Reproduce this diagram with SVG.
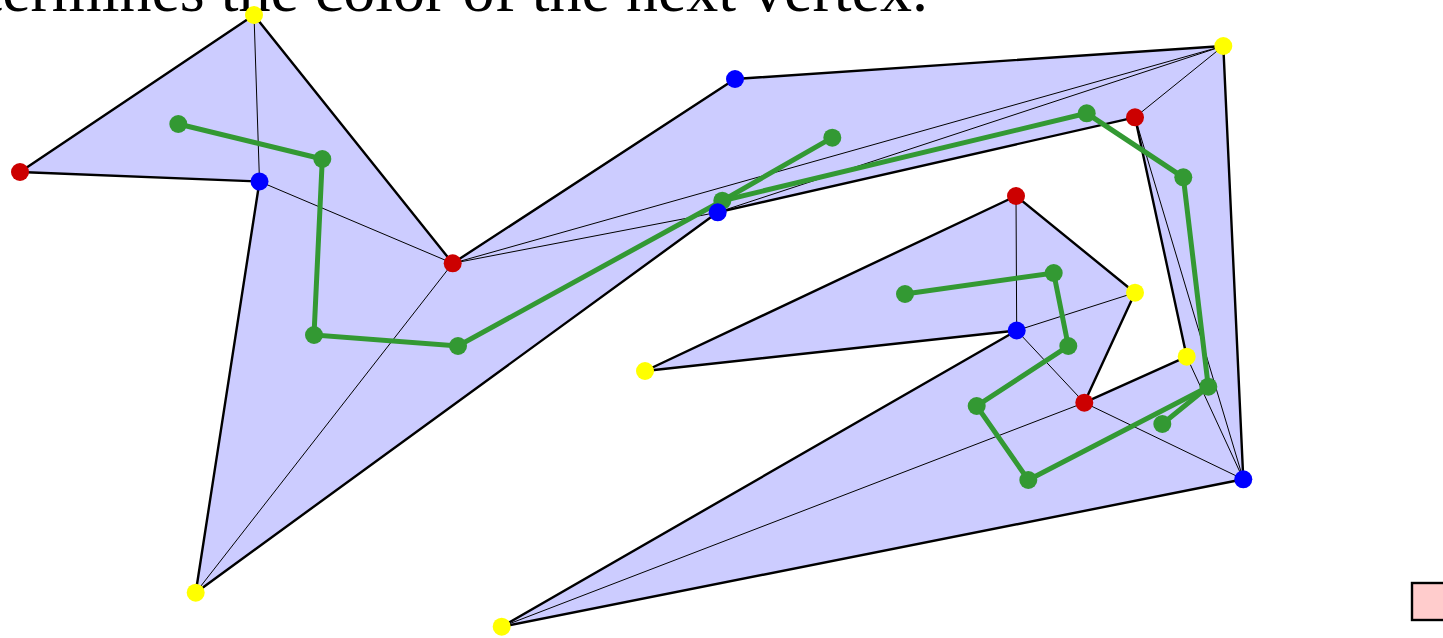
<svg xmlns="http://www.w3.org/2000/svg" width="1443" height="638" viewBox="0 0 1443 638">
<style>
.poly{fill:#ccccff;stroke:none}
.edge{stroke:#000;stroke-width:2.4;fill:none;stroke-linejoin:round}
.diag{stroke:#000;stroke-width:1;fill:none}
.dual{stroke:#339933;stroke-width:5;fill:none;stroke-linecap:round}
.g{fill:#339933}
.r{fill:#cc0000}
.y{fill:#ffff00}
.b{fill:#0000ff}
.title{font-family:"Liberation Serif","Times New Roman",serif;font-size:64px;fill:#000}
</style>
<text class="title" x="928" y="11" text-anchor="end">determines the color of the next vertex.</text>
<rect x="1412" y="583" width="60" height="37" fill="#ffcccc" stroke="#000" stroke-width="2.4"/>
<g id="polygon">
<polygon class="poly" points="254,15 20,172 259.5,181.5 195.7,592.7 717.7,212.3 1135,117.3 1186.7,356.7 1084.3,402.7 1135,292.7 1016,196 645,371 1016.7,330.5 501.7,626.7 1243.3,479.3 1223.3,46 735,79 452.7,263.3"/>
</g>
<g id="connectors">
<g id="diagonals">
<line class="diag" x1="254" y1="15" x2="259.5" y2="181.5"/>
<line class="diag" x1="259.5" y1="181.5" x2="452.7" y2="263.3"/>
<line class="diag" x1="452.7" y1="263.3" x2="195.7" y2="592.7"/>
<line class="diag" x1="452.7" y1="263.3" x2="717.7" y2="212.3"/>
<line class="diag" x1="452.7" y1="263.3" x2="1223.3" y2="46"/>
<line class="diag" x1="717.7" y1="212.3" x2="1223.3" y2="46"/>
<line class="diag" x1="1135" y1="117.3" x2="1223.3" y2="46"/>
<line class="diag" x1="1135" y1="117.3" x2="1243.3" y2="479.3"/>
<line class="diag" x1="1186.7" y1="356.7" x2="1243.3" y2="479.3"/>
<line class="diag" x1="1084.3" y1="402.7" x2="1243.3" y2="479.3"/>
<line class="diag" x1="501.7" y1="626.7" x2="1084.3" y2="402.7"/>
<line class="diag" x1="1016.7" y1="330.5" x2="1084.3" y2="402.7"/>
<line class="diag" x1="1016.7" y1="330.5" x2="1135" y2="292.7"/>
<line class="diag" x1="1016" y1="196" x2="1016.7" y2="330.5" stroke-width="1.8"/>
</g>
<polygon id="boundary" class="edge" points="254,15 20,172 259.5,181.5 195.7,592.7 717.7,212.3 1135,117.3 1186.7,356.7 1084.3,402.7 1135,292.7 1016,196 645,371 1016.7,330.5 501.7,626.7 1243.3,479.3 1223.3,46 735,79 452.7,263.3"/>
<g id="dual-tree">
<polyline class="dual" points="178.3,124 322.3,159 314,335 458,346 722.3,200.7 832.3,137.7"/>
<polyline class="dual" points="722.3,200.7 1086.7,113.3 1183.3,177.3 1208.3,386.7 1162.3,424"/>
<polyline class="dual" points="1208.3,386.7 1028.3,480 976.7,406 1068.3,346 1053.7,273 905,294"/>
</g>
</g>
<g id="dual-nodes">
<circle id="t1" class="g" cx="178.3" cy="124" r="9"/>
<circle id="t2" class="g" cx="322.3" cy="159" r="9"/>
<circle id="t3" class="g" cx="314" cy="335" r="9"/>
<circle id="t4" class="g" cx="458" cy="346" r="9"/>
<circle id="t5" class="g" cx="722.3" cy="200.7" r="9"/>
<circle id="t6" class="g" cx="832.3" cy="137.7" r="9"/>
<circle id="t7" class="g" cx="1086.7" cy="113.3" r="9"/>
<circle id="t8" class="g" cx="1183.3" cy="177.3" r="9"/>
<circle id="t9" class="g" cx="1208.3" cy="386.7" r="9"/>
<circle id="t10" class="g" cx="1162.3" cy="424" r="9"/>
<circle id="t11" class="g" cx="1028.3" cy="480" r="9"/>
<circle id="t12" class="g" cx="976.7" cy="406" r="9"/>
<circle id="t13" class="g" cx="1068.3" cy="346" r="9"/>
<circle id="t14" class="g" cx="1053.7" cy="273" r="9"/>
<circle id="t15" class="g" cx="905" cy="294" r="9"/>
</g>
<g id="vertices">
<circle id="vA" class="y" cx="254" cy="15" r="9"/>
<circle id="vB" class="r" cx="20" cy="172" r="9"/>
<circle id="vC" class="b" cx="259.5" cy="181.5" r="9"/>
<circle id="vD" class="y" cx="195.7" cy="592.7" r="9"/>
<circle id="vE" class="b" cx="717.7" cy="212.3" r="9"/>
<circle id="vF" class="r" cx="1135" cy="117.3" r="9"/>
<circle id="vG" class="y" cx="1186.7" cy="356.7" r="9"/>
<circle id="vH" class="r" cx="1084.3" cy="402.7" r="9"/>
<circle id="vI" class="y" cx="1135" cy="292.7" r="9"/>
<circle id="vJ" class="r" cx="1016" cy="196" r="9"/>
<circle id="vK" class="y" cx="645" cy="371" r="9"/>
<circle id="vL" class="b" cx="1016.7" cy="330.5" r="9"/>
<circle id="vM" class="y" cx="501.7" cy="626.7" r="9"/>
<circle id="vN" class="b" cx="1243.3" cy="479.3" r="9"/>
<circle id="vO" class="y" cx="1223.3" cy="46" r="9"/>
<circle id="vP" class="b" cx="735" cy="79" r="9"/>
<circle id="vQ" class="r" cx="452.7" cy="263.3" r="9"/>
</g>
</svg>
